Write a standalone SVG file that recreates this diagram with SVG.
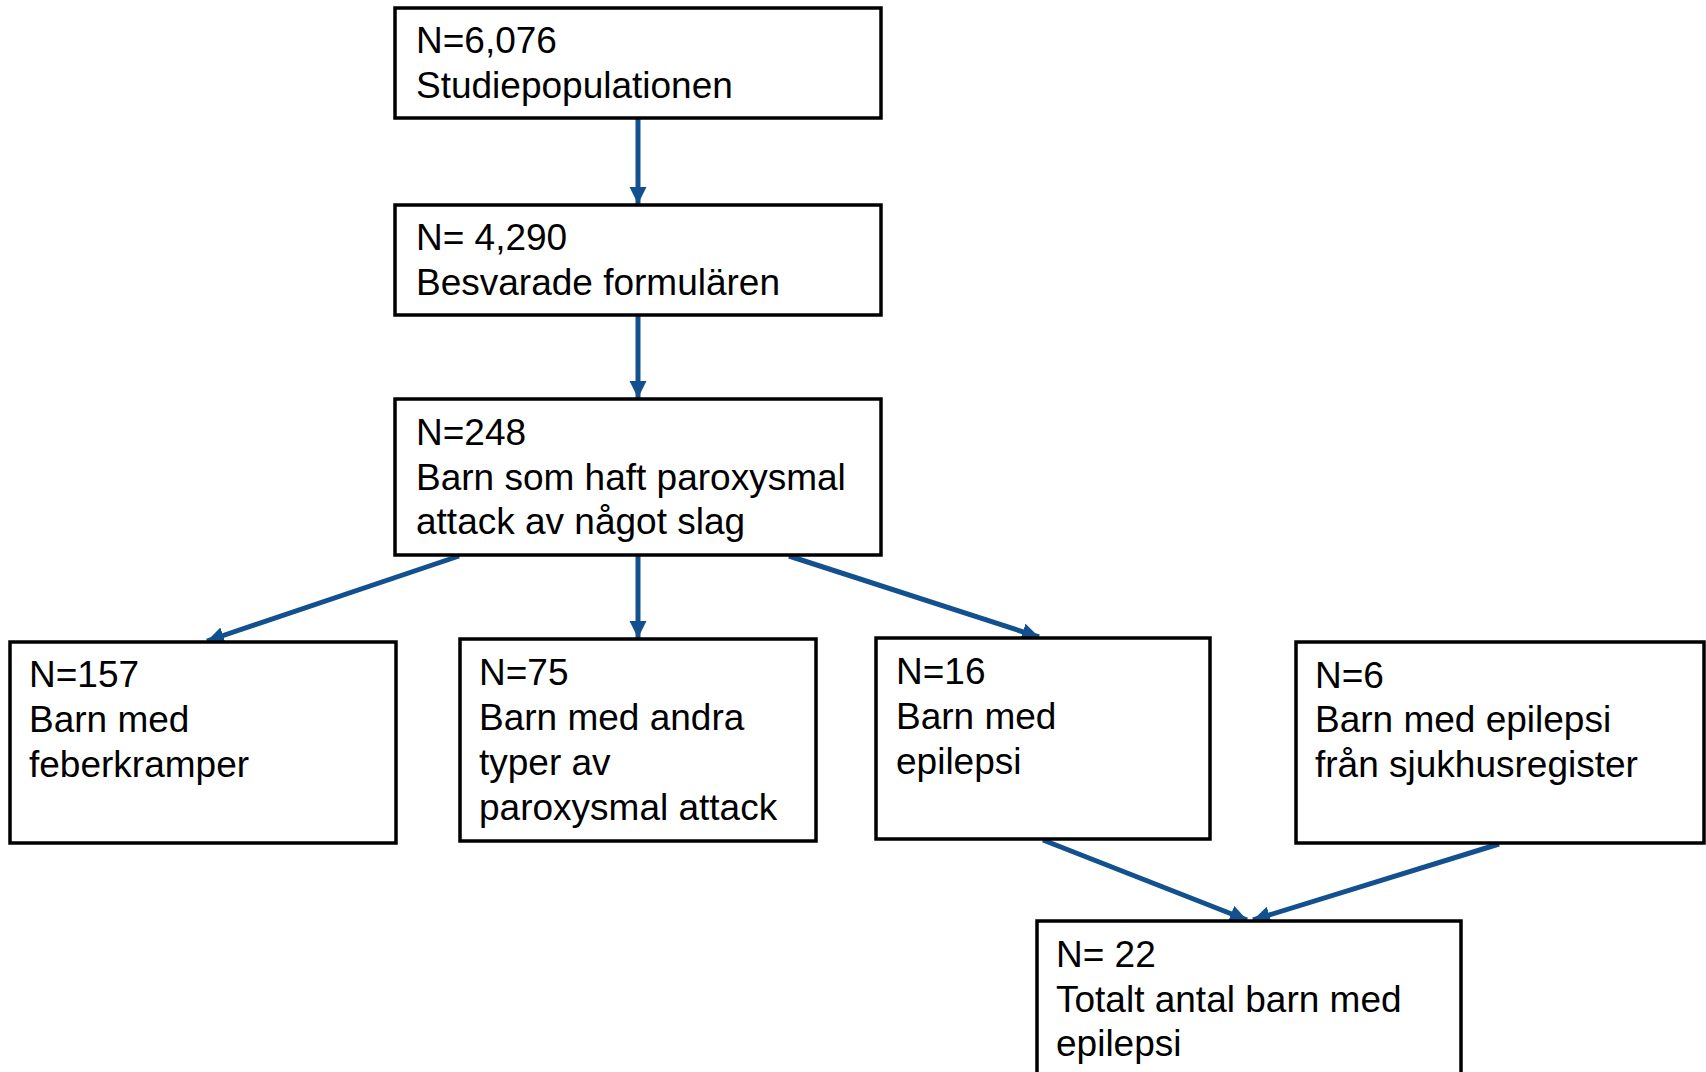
<svg xmlns="http://www.w3.org/2000/svg" width="1706" height="1072" viewBox="0 0 1706 1072">
<defs>
<style>
.box{fill:#ffffff;stroke:#000000;stroke-width:3.5}
.t{font-family:"Liberation Sans",Arial,sans-serif;font-size:37px;fill:#000000}
.c{stroke:#13508f;stroke-width:5;fill:none;marker-end:url(#ah)}
</style>
<marker id="ah" markerUnits="userSpaceOnUse" markerWidth="20" markerHeight="18" refX="17" refY="8.5" orient="auto">
<path d="M0,0 L17,8.5 L0,17 z" fill="#13508f"/>
</marker>
</defs>
<rect width="1706" height="1072" fill="#ffffff"/>
<g id="connectors">
<line class="c" x1="638" y1="119" x2="638" y2="204"/>
<line class="c" x1="638" y1="316" x2="638" y2="398"/>
<line class="c" x1="459" y1="556" x2="207" y2="641"/>
<line class="c" x1="638" y1="556" x2="638" y2="638"/>
<line class="c" x1="789" y1="556" x2="1039" y2="637"/>
<line class="c" x1="1043" y1="840" x2="1247" y2="920"/>
<line class="c" x1="1499" y1="844" x2="1253" y2="920"/>
</g>
<g id="n1">
<rect class="box" x="395" y="8" width="486" height="110"/>
<text class="t" x="416" y="53">N=6,076<tspan x="416" y="98">Studiepopulationen</tspan></text>
</g>
<g id="n2">
<rect class="box" x="395" y="205" width="486" height="110"/>
<text class="t" x="416" y="250">N= 4,290<tspan x="416" y="295">Besvarade formulären</tspan></text>
</g>
<g id="n3">
<rect class="box" x="395" y="399" width="486" height="156"/>
<text class="t" x="416" y="445">N=248<tspan x="416" y="490">Barn som haft paroxysmal</tspan><tspan x="416" y="534">attack av något slag</tspan></text>
</g>
<g id="n4">
<rect class="box" x="10" y="642" width="386" height="201"/>
<text class="t" x="29" y="687">N=157<tspan x="29" y="732">Barn med</tspan><tspan x="29" y="777">feberkramper</tspan></text>
</g>
<g id="n5">
<rect class="box" x="460" y="639" width="356" height="202"/>
<text class="t" x="479" y="685">N=75<tspan x="479" y="730">Barn med andra</tspan><tspan x="479" y="775">typer av</tspan><tspan x="479" y="820">paroxysmal attack</tspan></text>
</g>
<g id="n6">
<rect class="box" x="876" y="638" width="334" height="201"/>
<text class="t" x="896" y="684">N=16<tspan x="896" y="729">Barn med</tspan><tspan x="896" y="774">epilepsi</tspan></text>
</g>
<g id="n7">
<rect class="box" x="1296" y="642" width="408" height="201"/>
<text class="t" x="1315" y="688">N=6<tspan x="1315" y="732">Barn med epilepsi</tspan><tspan x="1315" y="777">från sjukhusregister</tspan></text>
</g>
<g id="n8">
<rect class="box" x="1037" y="921" width="424" height="160"/>
<text class="t" x="1056" y="967">N= 22<tspan x="1056" y="1012">Totalt antal barn med</tspan><tspan x="1056" y="1056">epilepsi</tspan></text>
</g>
</svg>
